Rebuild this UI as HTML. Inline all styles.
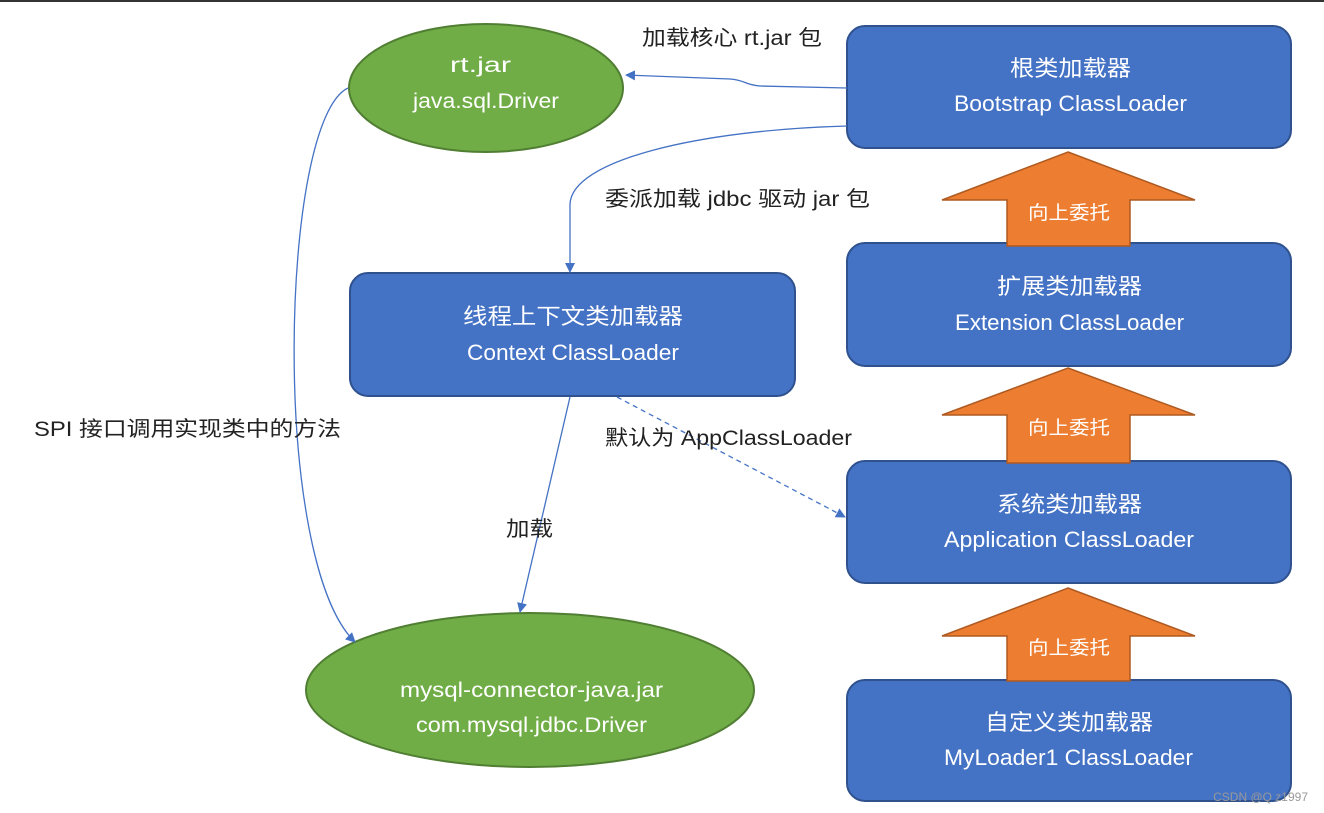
<!DOCTYPE html>
<html><head><meta charset="utf-8"><style>
body{margin:0;background:#fff;}
svg{display:block;font-family:"Liberation Sans","Noto Sans CJK SC",sans-serif;}
</style></head><body>
<svg width="1324" height="813" viewBox="0 0 1324 813">
<defs>
<marker id="a" markerWidth="10" markerHeight="10" refX="9" refY="5" orient="auto" markerUnits="userSpaceOnUse"><path d="M0,0 L10,5 L0,10 z" fill="#4472c4"/></marker>
</defs>
<rect x="0" y="0" width="1324" height="2" fill="#333"/>
<ellipse cx="486" cy="88" rx="137" ry="64" fill="#70ad47" stroke="#507e32" stroke-width="2"/>
<g fill="#fff" font-size="21" lengthAdjust="spacingAndGlyphs">
<text x="450" y="72" textLength="61" lengthAdjust="spacingAndGlyphs">rt.jar</text>
<text x="413" y="108" textLength="146" lengthAdjust="spacingAndGlyphs">java.sql.Driver</text>
</g>
<ellipse cx="530" cy="690" rx="224" ry="77" fill="#70ad47" stroke="#507e32" stroke-width="2"/>
<g fill="#fff" font-size="21">
<text x="400" y="697" textLength="263" lengthAdjust="spacingAndGlyphs">mysql-connector-java.jar</text>
<text x="416" y="732" textLength="231" lengthAdjust="spacingAndGlyphs">com.mysql.jdbc.Driver</text>
</g>
<g fill="#4472c4" stroke="#2f528f" stroke-width="2">
<rect x="847" y="26" width="444" height="122" rx="18"/>
<rect x="847" y="243" width="444" height="123" rx="18"/>
<rect x="847" y="461" width="444" height="122" rx="18"/>
<rect x="847" y="680" width="444" height="121" rx="18"/>
<rect x="350" y="273" width="445" height="123" rx="18"/>
</g>
<g fill="#fff" font-size="22">
<text x="1010" y="76" textLength="121" lengthAdjust="spacingAndGlyphs">根类加载器</text>
<text x="954" y="111" textLength="233" lengthAdjust="spacingAndGlyphs">Bootstrap ClassLoader</text>
<text x="997" y="294" textLength="145" lengthAdjust="spacingAndGlyphs">扩展类加载器</text>
<text x="955" y="330" textLength="229" lengthAdjust="spacingAndGlyphs">Extension ClassLoader</text>
<text x="997" y="512" textLength="145" lengthAdjust="spacingAndGlyphs">系统类加载器</text>
<text x="944" y="547" textLength="250" lengthAdjust="spacingAndGlyphs">Application ClassLoader</text>
<text x="985" y="730" textLength="168" lengthAdjust="spacingAndGlyphs">自定义类加载器</text>
<text x="944" y="765" textLength="249" lengthAdjust="spacingAndGlyphs">MyLoader1 ClassLoader</text>
<text x="463" y="324" textLength="220" lengthAdjust="spacingAndGlyphs">线程上下文类加载器</text>
<text x="467" y="360" textLength="212" lengthAdjust="spacingAndGlyphs">Context ClassLoader</text>
</g>
<g fill="#ed7d31" stroke="#ae5a21" stroke-width="1.5">
<path d="M1068,152 L1195,200 L1130,200 L1130,246 L1007,246 L1007,200 L942,200 z"/>
<path d="M1068,368 L1195,415 L1130,415 L1130,463 L1007,463 L1007,415 L942,415 z"/>
<path d="M1068,588 L1195,636 L1130,636 L1130,681 L1007,681 L1007,636 L942,636 z"/>
</g>
<g fill="#fff" font-size="19">
<text x="1028" y="219" textLength="82" lengthAdjust="spacingAndGlyphs">向上委托</text>
<text x="1028" y="434" textLength="82" lengthAdjust="spacingAndGlyphs">向上委托</text>
<text x="1028" y="654" textLength="82" lengthAdjust="spacingAndGlyphs">向上委托</text>
</g>
<g fill="none" stroke="#4472c4" stroke-width="1.3">
<path d="M847,88 L760,86 C745,85 745,80 730,79 L626,75" marker-end="url(#a)"/>
<path d="M847,126 C700,130 570,160 570,205 L570,272" marker-end="url(#a)"/>
<path d="M348,88 C280,120 270,560 355,642" marker-end="url(#a)"/>
<path d="M570,397 L520,612" marker-end="url(#a)"/>
<path d="M617,397 L845,517" stroke-dasharray="5,4" marker-end="url(#a)"/>
</g>
<g fill="#222" font-size="21">
<text x="642" y="45" textLength="180" lengthAdjust="spacingAndGlyphs">加载核心 rt.jar 包</text>
<text x="605" y="206" textLength="265" lengthAdjust="spacingAndGlyphs">委派加载 jdbc 驱动 jar 包</text>
<text x="34" y="436" textLength="307" lengthAdjust="spacingAndGlyphs">SPI 接口调用实现类中的方法</text>
<text x="605" y="445" textLength="247" lengthAdjust="spacingAndGlyphs">默认为 AppClassLoader</text>
<text x="506" y="536" textLength="47" lengthAdjust="spacingAndGlyphs">加载</text>
</g>
<text x="1308" y="801" fill="#999" font-size="12" text-anchor="end">CSDN @Q z1997</text>
</svg>
</body></html>
